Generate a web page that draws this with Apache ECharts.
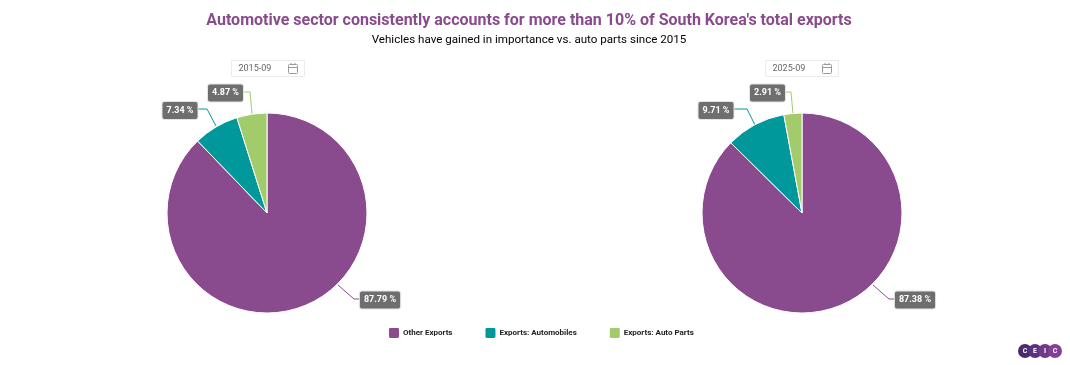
<!DOCTYPE html>
<html>
<head>
<meta charset="utf-8">
<style>
  html, body { margin: 0; padding: 0; background: #fff; }
  #chart { width: 1070px; height: 365px; }
</style>
<script src="https://cdn.jsdelivr.net/npm/echarts@6/dist/echarts.min.js"></script>
</head>
<body>
<div id="chart"></div>
<script>
const categories = ['Other Exports', 'Exports: Automobiles', 'Exports: Auto Parts'];
const values2015 = [87.79, 7.34, 4.87];
const values2025 = [87.38, 9.71, 2.91];
const dates = ['2015-09', '2025-09'];
const logoLetters = ['C', 'E', 'I', 'C'];

const colors = ['#8a4a8e', '#00989a', '#a2cc6b'];
const logoColors = ['#4a2a6e', '#5c3080', '#70388c', '#843f94'];
const font = 'Roboto, sans-serif';

// label box centre and leader line for each slice, per pie
const labelSpots = [
  [
    { x: 380, y: 300, line: [[338, 285], [354, 299], [361, 299]] },
    { x: 180, y: 110.5, line: [[216, 126], [207, 109], [196, 109]] },
    { x: 225.5, y: 93, line: [[252, 114], [250, 92], [241, 92]] }
  ],
  [
    { x: 915, y: 300, line: [[873, 285], [889, 299], [896, 299]] },
    { x: 716, y: 110.5, line: [[755, 125], [747, 109], [732, 109]] },
    { x: 767.5, y: 93, line: [[793, 114], [791, 92], [783, 92]] }
  ]
];

function pieSeries(values, cx, idx) {
  return {
    type: 'pie',
    center: [cx, 213],
    radius: [0, 100],
    startAngle: 90,
    clockwise: true,
    silent: true,
    animation: false,
    data: categories.map((name, i) => ({ name, value: values[i] })),
    itemStyle: { borderColor: '#fff', borderWidth: 1 },
    label: {
      show: true,
      formatter: (p) => p.value.toFixed(2) + ' %',
      color: '#fff',
      fontFamily: font,
      fontSize: 9,
      fontWeight: 'bold',
      backgroundColor: '#6e6e6e',
      borderColor: '#e4e4e4',
      borderWidth: 1,
      borderRadius: 2,
      padding: [4, 4]
    },
    labelLine: { show: true, lineStyle: { width: 1 } },
    labelLayout: (p) => {
      const s = labelSpots[idx][p.dataIndex];
      return { x: s.x, y: s.y, align: 'center', verticalAlign: 'middle', labelLinePoints: s.line };
    }
  };
}

function dateBox(text, x) {
  const stroke = '#9a9a9a';
  return [
    { type: 'rect', shape: { x, y: 60.5, width: 73, height: 16 }, style: { fill: '#fff', stroke: '#ececec', lineWidth: 1 } },
    { type: 'text', x: x + 7, y: 64, style: { text, fill: '#666', font: '9px ' + font } },
    { type: 'rect', shape: { x: x + 57, y: 64.5, width: 9, height: 9, r: 1 }, style: { fill: '#fff', stroke, lineWidth: 1 } },
    { type: 'line', shape: { x1: x + 57, y1: 67.5, x2: x + 66, y2: 67.5 }, style: { stroke, lineWidth: 1 } },
    { type: 'line', shape: { x1: x + 59.5, y1: 63, x2: x + 59.5, y2: 65 }, style: { stroke, lineWidth: 1 } },
    { type: 'line', shape: { x1: x + 63.5, y1: 63, x2: x + 63.5, y2: 65 }, style: { stroke, lineWidth: 1 } }
  ];
}

const logo = logoLetters.flatMap((letter, i) => {
  const cx = 1025 + i * 10;
  return [
    { type: 'circle', z: 10, shape: { cx, cy: 351, r: 7 }, style: { fill: logoColors[i] } },
    { type: 'text', z: 11, x: cx, y: 351, style: { text: letter, fill: '#fff', font: 'bold 7px ' + font, align: 'center', verticalAlign: 'middle' } }
  ];
});

const chart = echarts.init(document.getElementById('chart'), null, { renderer: 'canvas' });

chart.setOption({
  animation: false,
  color: colors,
  title: {
    text: "Automotive sector consistently accounts for more than 10% of South Korea's total exports",
    subtext: 'Vehicles have gained in importance vs. auto parts since 2015',
    left: 524,
    top: 8,
    textAlign: 'center',
    itemGap: 5,
    textStyle: { color: '#8a4a8e', fontFamily: font, fontSize: 16, fontWeight: 'bold' },
    subtextStyle: { color: '#000', fontFamily: font, fontSize: 11.6 }
  },
  legend: {
    data: categories,
    left: 387,
    top: 326,
    itemWidth: 12,
    itemHeight: 12,
    itemGap: 31,
    icon: 'path://M2,0H8A2,2 0 0 1 10,2V8A2,2 0 0 1 8,10H2A2,2 0 0 1 0,8V2A2,2 0 0 1 2,0Z',
    selectedMode: false,
    padding: 0,
    textStyle: { color: '#222', fontFamily: font, fontSize: 8, fontWeight: 'bold', padding: [0, 0, 0, -2] }
  },
  series: [pieSeries(values2015, 267, 0), pieSeries(values2025, 802, 1)],
  graphic: [...dateBox(dates[0], 231.5), ...dateBox(dates[1], 765.5), ...logo]
});

window.addEventListener('resize', () => chart.resize());
</script>
</body>
</html>
